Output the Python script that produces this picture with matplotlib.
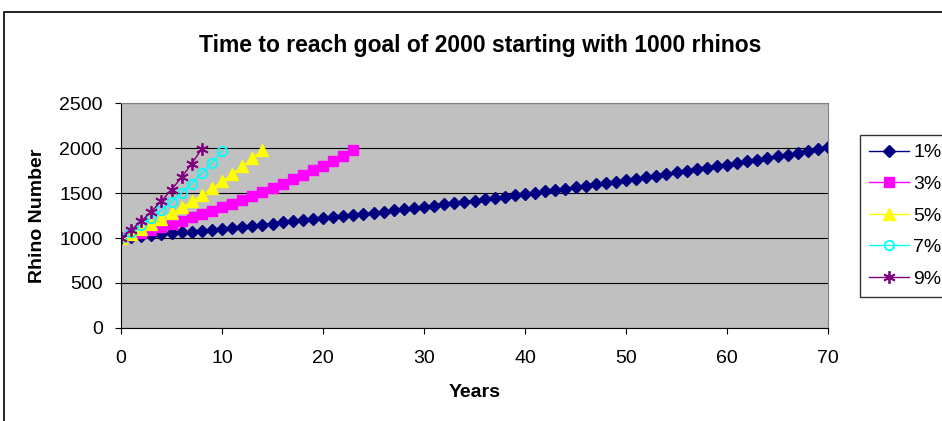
import numpy as np
import matplotlib
matplotlib.use("Agg")
import matplotlib.pyplot as plt
from matplotlib.patches import Rectangle

plt.rcParams['font.family'] = ['Liberation Sans', 'DejaVu Sans']

# rhino numbers per year for each growth rate
rate_1 = [1000, 1010, 1020, 1030, 1041, 1051, 1062, 1072, 1083, 1094,
          1105, 1116, 1127, 1138, 1149, 1161, 1173, 1184, 1196, 1208,
          1220, 1232, 1245, 1257, 1270, 1282, 1295, 1308, 1321, 1335,
          1348, 1361, 1375, 1389, 1403, 1417, 1431, 1445, 1460, 1474,
          1489, 1504, 1519, 1534, 1549, 1565, 1580, 1596, 1612, 1628,
          1645, 1661, 1678, 1694, 1711, 1729, 1746, 1763, 1781, 1799,
          1817, 1835, 1853, 1872, 1890, 1909, 1928, 1948, 1967, 1987, 2007]
rate_3 = [1000, 1030, 1061, 1093, 1126, 1159, 1194, 1230, 1267, 1305,
          1344, 1384, 1426, 1469, 1513, 1558, 1605, 1653, 1702, 1754,
          1806, 1860, 1916, 1974]
rate_5 = [1000, 1050, 1103, 1158, 1216, 1276, 1340, 1407, 1477, 1551,
          1629, 1710, 1796, 1886, 1980]
rate_7 = [1000, 1070, 1145, 1225, 1311, 1403, 1501, 1606, 1718, 1838, 1967]
rate_9 = [1000, 1090, 1188, 1295, 1412, 1539, 1677, 1828, 1993]

labels = ["1%", "3%", "5%", "7%", "9%"]

fig = plt.figure(figsize=(9.42, 4.21), dpi=100)
ax = fig.add_axes([0.1285, 0.221, 0.7505, 0.534])
ax.set_facecolor('#C0C0C0')

ax.plot(np.arange(len(rate_1)), rate_1, color='#000080', marker='D', ms=6.3, lw=1, label=labels[0])
ax.plot(np.arange(len(rate_3)), rate_3, color='#FF00FF', marker='s', ms=6.8, lw=1, label=labels[1])
ax.plot(np.arange(len(rate_5)), rate_5, color='#FFFF00', marker='^', ms=8, lw=1, label=labels[2])
ax.plot(np.arange(len(rate_7)), rate_7, color='#00FFFF', marker='o', ms=6.8, mfc='none', mew=1.3, lw=1, label=labels[3])
ax.plot(np.arange(len(rate_9)), rate_9, color='#800080', marker=(6, 2, 0), ms=9, mew=1.3, lw=1, label=labels[4])

ax.set_xlim(0, 70)
ax.set_ylim(0, 2500)
ax.set_xticks(range(0, 71, 10))
ax.set_yticks(range(0, 2501, 500))
ax.yaxis.grid(True, color='black', lw=0.8)
ax.set_axisbelow(True)
for s in ax.spines.values():
    s.set_color('#808080')
ax.spines['left'].set_color('black')
ax.spines['bottom'].set_color('black')
ax.tick_params(labelsize=14, length=4, color='black')
ax.tick_params(axis='x', pad=12)
ax.tick_params(axis='y', pad=9)

ax.set_xlabel("Years", fontsize=14, fontweight='bold', labelpad=12)
ax.set_ylabel("Rhino Number", fontsize=14, fontweight='bold', labelpad=10)
fig.text(0.51, 0.893, "Time to reach goal of 2000 starting with 1000 rhinos",
         ha='center', va='center', fontsize=16.5, fontweight='bold')

leg = ax.legend(loc='upper left', bbox_to_anchor=(1.045, 0.858), fontsize=14,
                frameon=True, fancybox=False, edgecolor='black',
                handlelength=2.1, handletextpad=0.2, labelspacing=0.72,
                borderpad=0.45, borderaxespad=0)
leg.get_frame().set_linewidth(1)

# chart area border
fig.add_artist(Rectangle((4 / 942, -0.1), 1.2, 1 - 12 / 421 + 0.1,
                         transform=fig.transFigure, fill=False,
                         edgecolor='black', lw=1.2))

fig.savefig("out.png", dpi=100)
